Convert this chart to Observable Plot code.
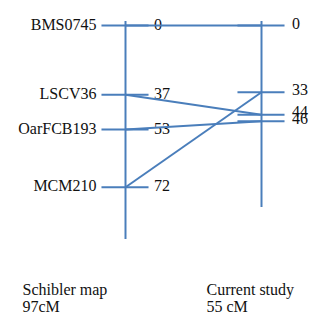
<!DOCTYPE html>
<html>
<head>
<meta charset="utf-8">
<script src="https://cdn.jsdelivr.net/npm/d3@7"></script>
<script src="https://cdn.jsdelivr.net/npm/@observablehq/plot@0.6"></script>
<style>
  html, body { margin: 0; padding: 0; background: #fff; }
  #chart { width: 320px; height: 315px; overflow: hidden; }
  #chart text, #chart tspan { font-family: "Liberation Serif", "Times New Roman", Times, serif !important; }
</style>
</head>
<body>
<div id="chart"></div>
<script>
// ---- data ----
const markers = ["BMS0745", "LSCV36", "OarFCB193", "MCM210"];
const schiblerCM = [0, 37, 53, 72];   // Schibler map positions (cM)
const currentCM = [0, 44, 46, 33];    // Current study positions (cM)
const mapNames = ["Schibler map", "Current study"];
const mapLengths = ["97cM", "55 cM"];

// ---- layout / style ----
const blue = "#4a7ebb";
const half = 0.173;              // half tick length in x units
const rows = markers.map((m, i) => ({marker: m, left: schiblerCM[i], right: currentCM[i]}));
const maps = mapNames.map((name, i) => ({name, length: mapLengths[i], i}));

// schematic (not-to-scale) drawing: piecewise linear warp of the cM axis
const warp = d3.scaleLinear()
  .domain([-2, 0, 33, 37, 44, 46, 53, 72, 97])
  .range([21, 25, 91.7, 94.3, 114.3, 120.7, 129, 186.7, 239]);

const txt = {fontSize: 16, fontFamily: "Liberation Serif", fill: "#111"};

const plot = Plot.plot({
  width: 320,
  height: 315,
  marginTop: 0, marginRight: 0, marginLeft: 0, marginBottom: 4,
  x: {axis: null, domain: [0, 1], range: [125, 261]},
  y: {axis: null, type: "linear", transform: warp, domain: [0, 315], range: [0, 315]},
  marks: [
    // labels
    Plot.text(rows, {x: () => 0, y: "left", text: "marker", textAnchor: "end", dx: -29, dy: -1, ...txt}),
    Plot.text(rows, {x: () => 0, y: "left", text: d => String(d.left), textAnchor: "start", dx: 28.5, dy: -1, ...txt}),
    Plot.text(rows.filter(d => d.right !== 44), {x: () => 1, y: "right", text: d => String(d.right), textAnchor: "start", dx: 30.5, dy: -2, ...txt}),
    Plot.text(rows.filter(d => d.right === 44), {x: () => 1, y: "right", text: d => String(d.right), textAnchor: "start", dx: 30.5, dy: -3, ...txt}),
    Plot.text(maps.filter(d => d.i === 0), {x: "i", frameAnchor: "bottom", lineAnchor: "bottom",
                     text: d => d.name + "\n" + d.length, textAnchor: "start", dx: -103, lineHeight: 1.05, ...txt}),
    Plot.text(maps.filter(d => d.i === 1), {x: "i", frameAnchor: "bottom", lineAnchor: "bottom",
                     text: d => d.name + "\n" + d.length, textAnchor: "start", dx: -55, lineHeight: 1.05, ...txt}),
    // chromosome bars
    Plot.ruleX(maps.filter(d => d.i === 0), {x: "i", y1: () => -2, y2: () => 97, stroke: blue, strokeWidth: 2}),
    Plot.ruleX(maps.filter(d => d.i === 1), {x: "i", y1: () => -2, y2: () => 97, insetBottom: 32, stroke: blue, strokeWidth: 2}),
    // marker ticks
    Plot.ruleY(rows, {y: "left", x1: () => -half, x2: () => half, stroke: blue, strokeWidth: 2}),
    Plot.ruleY(rows, {y: "right", x1: () => 1 - half, x2: () => 1 + half, stroke: blue, strokeWidth: 2}),
    // connections
    Plot.link(rows, {x1: () => 0, y1: "left", x2: () => 1, y2: "right", stroke: blue, strokeWidth: 2})
  ]
});
document.getElementById("chart").appendChild(plot);
</script>
</body>
</html>
